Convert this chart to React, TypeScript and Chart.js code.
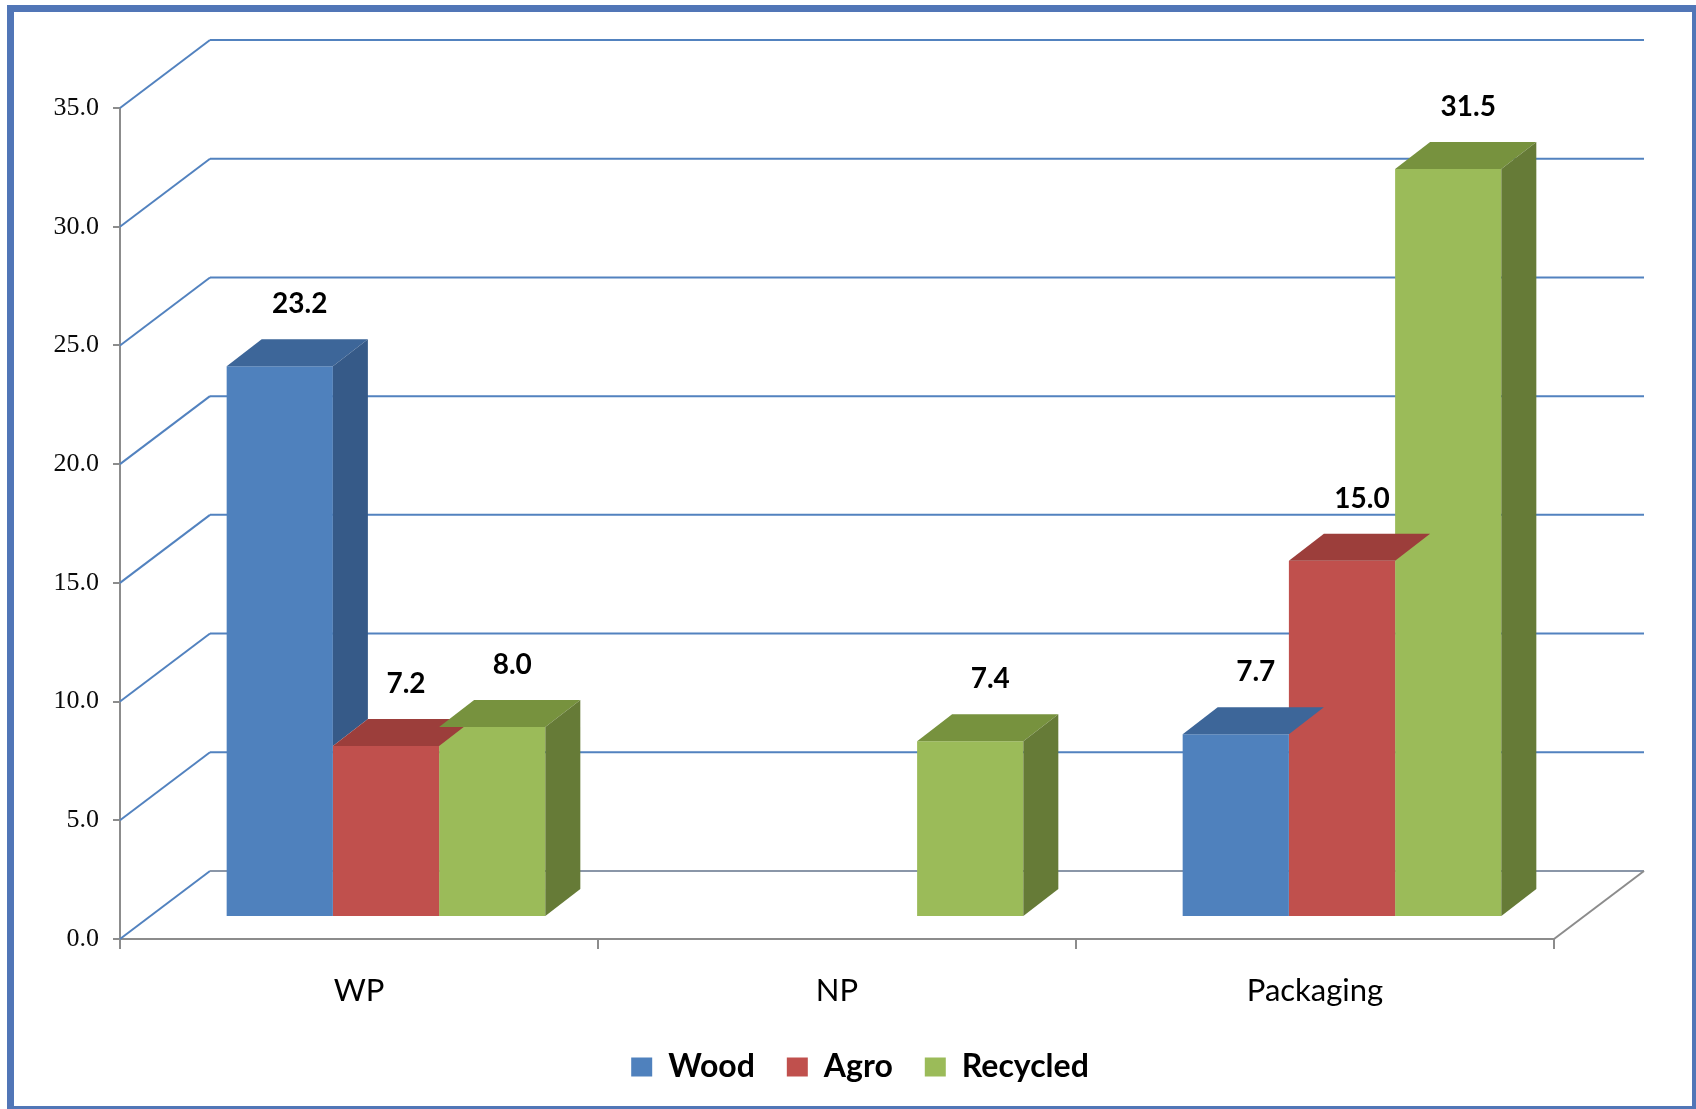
import React, { useEffect, useRef } from "react";
import { Chart, registerables } from "chart.js";

Chart.register(...registerables);

// ---- data ----
const categories = ["WP", "NP", "Packaging"];
const seriesNames = ["Wood", "Agro", "Recycled"];
const woodValues: (number | null)[] = [23.2, null, 7.7];
const agroValues: (number | null)[] = [7.2, null, 15.0];
const recycledValues: (number | null)[] = [8.0, 7.4, 31.5];
const yMin = 0;
const yMax = 35;
const yStep = 5;

// ---- styling ----
const frontColors = ["#4f81bd", "#c0504d", "#9bbb59"];
const topColors = ["#3d6699", "#9c3e3b", "#77923e"];
const sideColors = ["#365a88", "#893532", "#667b37"];

const CANVAS_W = 1696;
const CANVAS_H = 1109;

// oblique projection offsets
const WALL_DX = 90; // back wall relative to front axes
const WALL_DY = -68;
const BAR_DX = 27; // plane the bars stand on
const BAR_DY = -22;
const DEPTH_DX = 35; // depth of each bar
const DEPTH_DY = -27;

const GRID_BLUE = "#5282bf";
const AXIS_GRAY = "#8c8c8c";

function poly(ctx: CanvasRenderingContext2D, pts: number[][], color: string) {
  ctx.beginPath();
  ctx.moveTo(pts[0][0], pts[0][1]);
  for (let i = 1; i < pts.length; i++) ctx.lineTo(pts[i][0], pts[i][1]);
  ctx.closePath();
  ctx.fillStyle = color;
  ctx.fill();
}

const scene3d = {
  id: "scene3d",
  beforeDatasetsDraw(chart: any) {
    const { ctx, chartArea } = chart;
    const y = chart.scales.y;
    const left = chartArea.left;
    const right = chartArea.right;
    const bottom = chartArea.bottom;
    ctx.save();
    ctx.lineWidth = 2;
    ctx.lineCap = "butt";
    for (let v = yMin; v <= yMax; v += yStep) {
      const py = y.getPixelForValue(v);
      // side wall diagonal
      ctx.strokeStyle = GRID_BLUE;
      ctx.beginPath();
      ctx.moveTo(left, py);
      ctx.lineTo(left + WALL_DX, py + WALL_DY);
      ctx.stroke();
      // back wall line
      ctx.strokeStyle = v === yMin ? "#8a96a8" : GRID_BLUE;
      ctx.beginPath();
      ctx.moveTo(left + WALL_DX, py + WALL_DY);
      ctx.lineTo(right + WALL_DX, py + WALL_DY);
      ctx.stroke();
    }
    // floor right edge
    ctx.strokeStyle = AXIS_GRAY;
    ctx.beginPath();
    ctx.moveTo(right, bottom);
    ctx.lineTo(right + WALL_DX, bottom + WALL_DY);
    ctx.stroke();
    ctx.restore();

    // bars stand on a plane set back from the front axes
    ctx.save();
    ctx.translate(BAR_DX, BAR_DY);
  },
  afterDatasetsDraw(chart: any) {
    const { ctx } = chart;
    const yScale = chart.scales.y;
    const sets = chart.data.datasets;
    // top and side faces of each bar (still in the bar plane)
    for (let d = 0; d < sets.length; d++) {
      const meta = chart.getDatasetMeta(d);
      meta.data.forEach((bar: any, i: number) => {
        const v = sets[d].data[i];
        if (v === null || v === undefined) return;
        const { x, y, base, width } = bar.getProps(["x", "y", "base", "width"], true);
        const xl = x - width / 2;
        const xr = x + width / 2;
        poly(ctx, [[xl, y], [xr, y], [xr + DEPTH_DX, y + DEPTH_DY], [xl + DEPTH_DX, y + DEPTH_DY]], topColors[d]);
        const next = d + 1 < sets.length ? sets[d + 1].data[i] : null;
        if (next === null || next === undefined || next < v) {
          const lowY = next === null || next === undefined ? base : yScale.getPixelForValue(next);
          poly(ctx, [[xr, y], [xr + DEPTH_DX, y + DEPTH_DY], [xr + DEPTH_DX, lowY + DEPTH_DY], [xr, lowY]], sideColors[d]);
        }
      });
    }
    ctx.restore();

    // value labels above the bars
    ctx.save();
    ctx.font = "bold 28px Lato";
    ctx.fillStyle = "#000000";
    ctx.textAlign = "center";
    ctx.textBaseline = "middle";
    for (let d = 0; d < sets.length; d++) {
      const meta = chart.getDatasetMeta(d);
      meta.data.forEach((bar: any, i: number) => {
        const v = sets[d].data[i];
        if (v === null || v === undefined) return;
        const { x, y } = bar.getProps(["x", "y"], true);
        ctx.fillText(v.toFixed(1), x + BAR_DX + 20, y + BAR_DY - 62);
      });
    }
    ctx.restore();
  },
};

export default function App() {
  const canvasRef = useRef<HTMLCanvasElement | null>(null);

  useEffect(() => {
    const canvas = canvasRef.current;
    if (!canvas) return;
    const seriesValues = [woodValues, agroValues, recycledValues];
    const chart = new Chart(canvas, {
      type: "bar",
      data: {
        labels: categories,
        datasets: seriesNames.map((name, d) => ({
          label: name,
          data: seriesValues[d],
          backgroundColor: frontColors[d],
          borderWidth: 0,
          categoryPercentage: 2 / 3,
          barPercentage: 1,
          clip: false as any,
        })),
      },
      options: {
        responsive: false,
        animation: false,
        devicePixelRatio: 1,
        layout: { padding: { left: 24, right: 0, top: 108, bottom: 16 } },
        scales: {
          x: {
            grid: {
              display: true,
              drawOnChartArea: false,
              drawTicks: true,
              tickLength: 10,
              color: AXIS_GRAY,
              lineWidth: 2,
              offset: true,
            },
            border: { display: true, color: AXIS_GRAY, width: 2 },
            ticks: {
              color: "#000000",
              font: { family: "Lato", size: 31 },
              padding: 23,
              maxRotation: 0,
            },
            afterFit: (s: any) => {
              s.height = 80;
            },
          },
          y: {
            min: yMin,
            max: yMax,
            grid: {
              display: true,
              drawOnChartArea: false,
              drawTicks: true,
              tickLength: 7,
              color: AXIS_GRAY,
              lineWidth: 2,
            },
            border: { display: true, color: AXIS_GRAY, width: 2 },
            ticks: {
              stepSize: yStep,
              color: "#0a0a0a",
              font: { family: "Liberation Serif", size: 26 },
              padding: 14,
              callback: (v: any) => Number(v).toFixed(1),
            },
            afterFit: (s: any) => {
              s.width = 96;
            },
          },
          yRight: {
            type: "linear",
            position: "right",
            display: true,
            grid: { display: false },
            border: { display: false },
            ticks: { display: false },
            afterFit: (s: any) => {
              s.width = 142;
            },
          },
        },
        plugins: {
          tooltip: { enabled: false },
          legend: {
            position: "bottom",
            labels: {
              boxWidth: 21,
              boxHeight: 19,
              padding: 32,
              color: "#000000",
              font: { family: "Lato", size: 32, weight: "bold" },
            },
          },
        },
      },
      plugins: [scene3d],
    } as any);
    return () => chart.destroy();
  }, []);

  return (
    <div
      style={{
        position: "fixed",
        left: 0,
        top: 0,
        width: CANVAS_W,
        height: CANVAS_H,
        background: "#ffffff",
        overflow: "hidden",
      }}
    >
      <div
        style={{
          position: "absolute",
          left: 7,
          top: 5,
          width: 1692,
          height: 1108,
          border: "7px solid #5176b7",
          boxSizing: "border-box",
        }}
      />
      <canvas
        ref={canvasRef}
        width={CANVAS_W}
        height={CANVAS_H}
        style={{ position: "absolute", left: 0, top: 0, width: CANVAS_W, height: CANVAS_H }}
      />
    </div>
  );
}
